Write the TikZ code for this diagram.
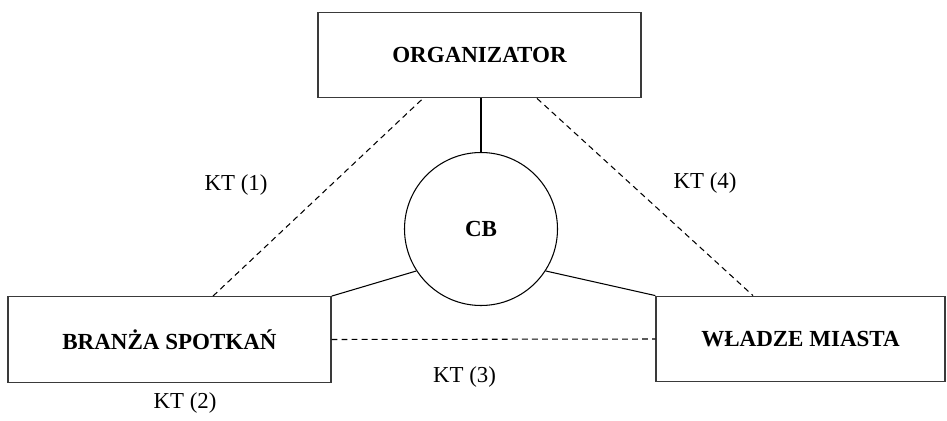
\documentclass[tikz,border=0pt]{standalone}
\usepackage{fontspec}
\setmainfont{Liberation Serif}
\usetikzlibrary{positioning}
\definecolor{FrameGray}{HTML}{3A3A3A}

\begin{document}
\begin{tikzpicture}[font=\fontsize{13}{15.5}\selectfont,
  party/.style={draw=FrameGray, line width=0.75pt, minimum height=1.71cm,
    font=\fontsize{13.1}{15.5}\selectfont\bfseries},
  tie/.style={line width=0.6pt},
  contact/.style={line width=0.6pt, dash pattern=on 3.3pt off 2.4pt}]
  \useasboundingbox (0,0) rectangle (18.94,8.4);

  \node[party, minimum width=6.46cm] (org) at (9.59,7.30) {ORGANIZATOR};
  \node[draw, circle, line width=0.6pt, minimum size=3.06cm,
    font=\fontsize{13.1}{15.5}\selectfont\bfseries] (cb) at (9.62,3.82) {CB};
  \node[party, minimum width=6.46cm] (bs) at (3.39,1.61) {BRANŻA SPOTKAŃ};
  \node[party, minimum width=5.78cm] (wm) at (16.01,1.62) {WŁADZE MIASTA};

  % ties through the bureau
  \draw[tie] (cb.north |- org.south) -- (cb.north);
  \draw[tie] (bs.north east) -- (cb.213);
  \draw[tie] (wm.north west) -- (cb.327);

  % direct contacts
  \draw[contact] ([xshift=0.87cm]bs.north) -- ([xshift=-1.13cm]org.south);
  \draw[contact] ([xshift=1.15cm]org.south) -- ([xshift=-0.95cm]wm.north);
  \draw[contact] (bs.east) -- (wm.west);

  \node (kt1) at (4.72,4.70) {KT (1)};
  \node (kt2) at (3.70,0.34) {KT (2)};
  \node (kt3) at (9.29,0.86) {KT (3)};
  \node (kt4) at (14.10,4.74) {KT (4)};
\end{tikzpicture}
\end{document}
